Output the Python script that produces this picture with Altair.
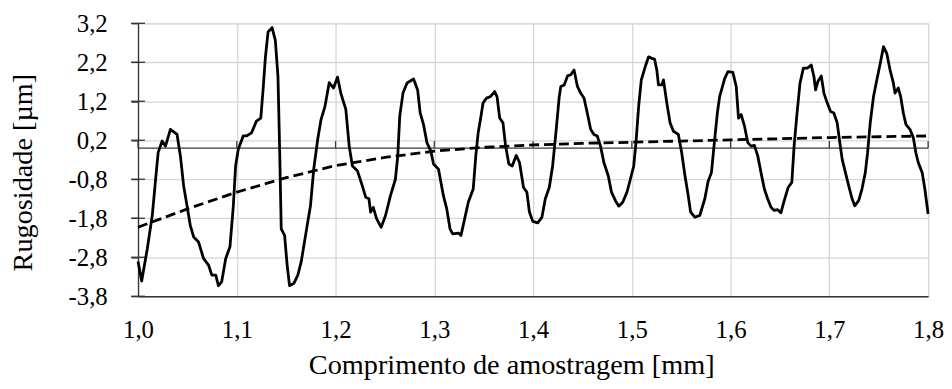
import altair as alt
import pandas as pd

# Roughness profile (solid line)
profile_x = [
    1.0000, 1.0037, 1.0094, 1.0144, 1.0178, 1.0204, 1.0244, 1.0278, 1.0328, 1.0395,
    1.0429, 1.0462, 1.0496, 1.0529, 1.0563, 1.0613, 1.0663, 1.0714, 1.0747, 1.0787,
    1.0814, 1.0847, 1.0888, 1.0931, 1.0965, 1.0988, 1.1015, 1.1065, 1.1098, 1.1149,
    1.1199, 1.1243, 1.1266, 1.1290, 1.1317, 1.1357, 1.1390, 1.1417, 1.1434, 1.1450,
    1.1484, 1.1510, 1.1534, 1.1578, 1.1618, 1.1652, 1.1702, 1.1746, 1.1779, 1.1819,
    1.1853, 1.1893, 1.1936, 1.1980, 1.2020, 1.2053, 1.2104, 1.2138, 1.2171, 1.2221,
    1.2271, 1.2305, 1.2338, 1.2355, 1.2382, 1.2415, 1.2462, 1.2506, 1.2556, 1.2606,
    1.2630, 1.2650, 1.2683, 1.2724, 1.2790, 1.2831, 1.2857, 1.2891, 1.2925, 1.2965,
    1.2992, 1.3042, 1.3092, 1.3126, 1.3159, 1.3186, 1.3243, 1.3270, 1.3300, 1.3344,
    1.3394, 1.3420, 1.3444, 1.3467, 1.3494, 1.3528, 1.3568, 1.3611, 1.3635, 1.3662,
    1.3695, 1.3722, 1.3755, 1.3789, 1.3829, 1.3863, 1.3903, 1.3937, 1.3963, 1.3997,
    1.4047, 1.4090, 1.4124, 1.4164, 1.4198, 1.4231, 1.4265, 1.4281, 1.4315, 1.4349,
    1.4382, 1.4415, 1.4449, 1.4482, 1.4516, 1.4549, 1.4583, 1.4616, 1.4650, 1.4683,
    1.4717, 1.4761, 1.4794, 1.4834, 1.4868, 1.4908, 1.4952, 1.4985, 1.5019, 1.5042,
    1.5069, 1.5096, 1.5136, 1.5170, 1.5203, 1.5230, 1.5253, 1.5270, 1.5304, 1.5320,
    1.5354, 1.5387, 1.5421, 1.5471, 1.5505, 1.5538, 1.5571, 1.5595, 1.5638, 1.5688,
    1.5739, 1.5772, 1.5806, 1.5832, 1.5866, 1.5889, 1.5940, 1.5973, 1.6023, 1.6057,
    1.6080, 1.6107, 1.6141, 1.6174, 1.6208, 1.6241, 1.6275, 1.6308, 1.6342, 1.6375,
    1.6409, 1.6442, 1.6476, 1.6509, 1.6543, 1.6583, 1.6620, 1.6643, 1.6670, 1.6703,
    1.6737, 1.6777, 1.6817, 1.6844, 1.6861, 1.6884, 1.6918, 1.6945, 1.6978, 1.7012,
    1.7045, 1.7079, 1.7106, 1.7130, 1.7163, 1.7196, 1.7230, 1.7257, 1.7297, 1.7330,
    1.7364, 1.7387, 1.7414, 1.7447, 1.7481, 1.7515, 1.7548, 1.7581, 1.7615, 1.7648,
    1.7665, 1.7698, 1.7722, 1.7749, 1.7776, 1.7816, 1.7850, 1.7876, 1.7900, 1.7940,
    1.7967, 1.8000,
]
profile_y = [
    -2.91, -3.41, -2.58, -1.73, -0.80, -0.11, 0.18, 0.05, 0.48, 0.35,
    -0.20, -0.97, -1.48, -1.98, -2.28, -2.41, -2.83, -3.00, -3.26, -3.26,
    -3.53, -3.43, -2.83, -2.53, -1.48, -0.46, -0.03, 0.31, 0.31, 0.39,
    0.69, 0.77, 1.49, 2.34, 2.98, 3.09, 2.77, 1.83, -0.03, -2.07,
    -2.24, -3.00, -3.53, -3.47, -3.26, -2.92, -2.15, -1.48, -0.54, 0.22,
    0.73, 1.07, 1.68, 1.54, 1.82, 1.41, 0.99, 0.05, -0.46, -0.58,
    -0.97, -1.26, -1.30, -1.64, -1.52, -1.81, -2.03, -1.73, -1.22, -0.80,
    -0.20, 0.82, 1.41, 1.67, 1.77, 1.49, 0.90, 0.60, 0.14, -0.08,
    -0.41, -0.54, -1.22, -1.56, -2.07, -2.20, -2.18, -2.24, -1.90, -1.39,
    -1.05, -0.20, 0.39, 0.73, 1.16, 1.28, 1.32, 1.45, 1.32, 0.77,
    0.65, 0.05, -0.41, -0.46, -0.19, -0.37, -1.01, -1.13, -1.64, -1.88,
    -1.92, -1.77, -1.30, -1.01, -0.46, 0.39, 1.32, 1.58, 1.62, 1.85,
    1.88, 2.00, 1.58, 1.41, 1.28, 0.90, 0.48, 0.35, 0.31, 0.05,
    -0.37, -0.71, -1.13, -1.35, -1.49, -1.39, -1.12, -0.80, -0.46, 0.14,
    1.07, 1.75, 2.09, 2.34, 2.30, 2.28, 2.00, 1.62, 1.62, 1.75,
    1.16, 0.65, 0.43, 0.35, -0.12, -0.71, -1.22, -1.64, -1.77, -1.73,
    -1.30, -0.86, -0.63, 0.05, 0.90, 1.32, 1.78, 1.96, 1.94, 1.58,
    0.77, 0.86, 0.56, 0.14, 0.05, 0.07, -0.20, -0.63, -1.05, -1.30,
    -1.52, -1.60, -1.58, -1.66, -1.35, -1.01, -0.88, 0.05, 0.82, 1.67,
    2.05, 2.05, 2.13, 1.83, 1.49, 1.71, 1.85, 1.41, 1.16, 0.94,
    0.90, 0.65, 0.14, -0.29, -0.63, -0.97, -1.30, -1.48, -1.35, -1.05,
    -0.63, -0.12, 0.65, 1.32, 1.75, 2.17, 2.60, 2.43, 2.00, 1.67,
    1.41, 1.54, 1.32, 0.90, 0.60, 0.48, 0.27, -0.12, -0.37, -0.63,
    -1.05, -1.69,
]

# Mean line (dashed)
mean_x = [1.00, 1.05, 1.10, 1.15, 1.20, 1.25, 1.30, 1.35, 1.40, 1.45,
          1.50, 1.55, 1.60, 1.65, 1.70, 1.75, 1.80]
mean_y = [-2.03, -1.56, -1.13, -0.76, -0.45, -0.24, -0.08, 0.02, 0.08, 0.12,
          0.15, 0.18, 0.21, 0.24, 0.27, 0.29, 0.31]

x_ticks = [1.0, 1.1, 1.2, 1.3, 1.4, 1.5, 1.6, 1.7, 1.8]
y_ticks = [3.2, 2.2, 1.2, 0.2, -0.8, -1.8, -2.8, -3.8]

x_title = "Comprimento de amostragem [mm]"
y_title = "Rugosidade [µm]"

FONT = "Liberation Serif, Times New Roman, Times, DejaVu Serif, serif"
DARK = "#333333"
label_expr = "replace(replace(format(datum.value, '.1f'), '.', ','), '\u2212', '-')"

x_scale = alt.Scale(domain=[1.0, 1.8], nice=False, zero=False)
y_scale = alt.Scale(domain=[-3.8, 3.2], nice=False, zero=False)

x_axis = alt.Axis(
    values=x_ticks, labelExpr=label_expr, labelFont=FONT, labelFontSize=25,
    labelColor="black", labelPadding=22, labelFlush=False, labelOverlap=False,
    ticks=False, domainColor=DARK, domainWidth=1.3,
    grid=True, gridColor="#d6d6d6", gridWidth=1.3,
    title=x_title, titleFont=FONT, titleFontSize=28.5, titleFontWeight="normal",
    titleColor="black", titleX=376, titleY=78, titleBaseline="alphabetic",
    titleAlign="center",
)
y_axis = alt.Axis(
    values=y_ticks, labelExpr=label_expr, labelFont=FONT, labelFontSize=25,
    labelColor="black", labelPadding=24, labelFlush=False, labelOverlap=False,
    ticks=True, tickSize=7, tickColor=DARK, tickWidth=1.3,
    domainColor=DARK, domainWidth=1.3,
    grid=True, gridColor="#d6d6d6", gridWidth=1.3,
    title=y_title, titleFont=FONT, titleFontSize=28.5, titleFontWeight="normal",
    titleColor="black", titleX=-107, titleY=150, titleBaseline="alphabetic",
    titleAlign="center", titleAngle=270,
)

profile_df = pd.DataFrame({"x": profile_x, "y": profile_y})
mean_df = pd.DataFrame({"x": mean_x, "y": mean_y})
zero_df = pd.DataFrame({"y": [0.0]})
xtick_df = pd.DataFrame({"x": x_ticks, "y": [0.0] * len(x_ticks)})
ytick_df = pd.DataFrame({"x": [1.0] * len(y_ticks), "y": y_ticks})

X = alt.X("x:Q", scale=x_scale, axis=x_axis)
Y = alt.Y("y:Q", scale=y_scale, axis=y_axis)

zero_rule = alt.Chart(zero_df).mark_rule(color="#3a3a3a", strokeWidth=1.3).encode(y=Y)
x_tick_marks = alt.Chart(xtick_df).mark_tick(
    orient="vertical", size=7, thickness=1.3, yOffset=-3.5, color="#3a3a3a", opacity=1
).encode(x=X, y=Y)
y_tick_marks = alt.Chart(ytick_df).mark_tick(
    orient="horizontal", size=14, thickness=1.3, color=DARK, opacity=1
).encode(x=X, y=Y)

mean_line = alt.Chart(mean_df).mark_line(
    color="black", strokeWidth=2.8, strokeDash=[10, 5]
).encode(x=X, y=Y)
profile_line = alt.Chart(profile_df).mark_line(
    color="black", strokeWidth=2.8, strokeJoin="round"
).encode(x=X, y=Y, order=alt.Order("x:Q"))

chart = alt.layer(
    zero_rule, x_tick_marks, y_tick_marks, mean_line, profile_line
).properties(
    width=796, height=275,
    autosize=alt.AutoSizeParams(type="none"),
    padding={"left": 131, "top": 14, "right": 16, "bottom": 84},
).configure_view(
    stroke=DARK, strokeWidth=1.3
).configure(background="white", font=FONT)

chart.save("out.html", embed_options={"renderer": "svg", "actions": False})
